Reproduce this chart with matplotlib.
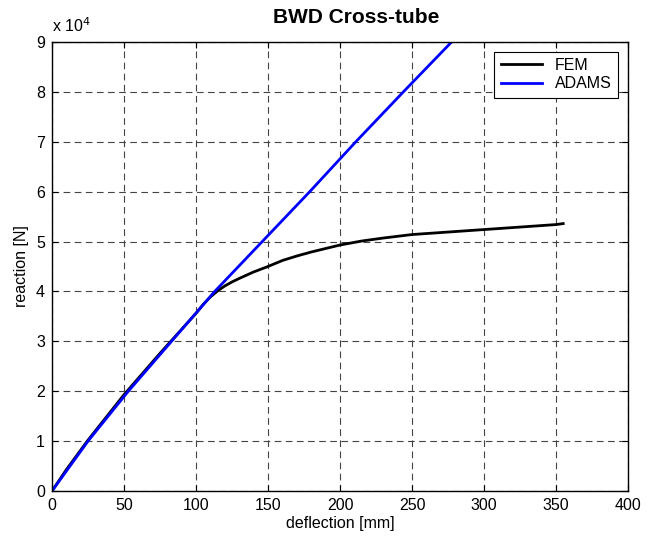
import numpy as np
import matplotlib
matplotlib.use("Agg")
import matplotlib.pyplot as plt
from matplotlib.ticker import FuncFormatter

# -----------------------------
# DATA
# -----------------------------
fem_defl = [0, 10, 25, 50, 75, 100, 105, 110, 115, 120, 125, 130, 140, 150,
            160, 170, 180, 190, 200, 215, 230, 250, 275, 300, 325, 350, 355]
fem_reac = [0, 4300, 10200, 19300, 27600, 35600, 37400, 38900, 40100, 41100,
            41900, 42600, 43900, 45000, 46200, 47100, 47900, 48600, 49300,
            50100, 50700, 51400, 51900, 52400, 52900, 53400, 53600]

adams_defl = [0, 25, 53, 83, 113, 146, 179, 211, 244, 277.5]
adams_reac = [0, 10000, 20000, 30000, 40000, 50000, 60000, 70000, 80000, 90000]

plt.rcParams['font.family'] = ['Liberation Sans', 'DejaVu Sans']
FS = 11.5

fig = plt.figure(figsize=(6.56, 5.43), dpi=100)
ax = fig.add_axes([0.0793, 0.0958, 0.8780, 0.8269])

ax.plot(fem_defl, fem_reac, color='black', lw=2, label='FEM')
ax.plot(adams_defl, adams_reac, color='blue', lw=2, label='ADAMS')

ax.set_xlim(0, 400)
ax.set_ylim(0, 90000)
ax.set_xticks(np.arange(0, 401, 50))
ax.set_yticks(np.arange(0, 90001, 10000))
ax.yaxis.set_major_formatter(FuncFormatter(lambda v, p: f"{v / 1e4:g}"))
ax.tick_params(direction='in', top=True, right=True, length=4, width=0.8,
               labelsize=FS, pad=5)

ax.grid(True, color='#444444', linestyle=(0, (6, 4)), linewidth=0.8)
for s in ax.spines.values():
    s.set_linewidth(1.0)

ax.text(0.0, 1.015, r"x 10$^{4}$", transform=ax.transAxes, fontsize=FS,
        ha='left', va='bottom')
fig.text(356 / 656, 1 - 23 / 543, "BWD Cross-tube", fontsize=15,
         fontweight='bold', ha='center', va='baseline')
ax.set_xlabel("deflection [mm]", fontsize=FS, labelpad=2)
ax.set_ylabel("reaction [N]", fontsize=FS, labelpad=5)

leg = ax.legend(loc='upper right', fancybox=False, edgecolor='black',
                framealpha=1, fontsize=FS, handlelength=2.6,
                borderaxespad=0.6, labelspacing=0.2, borderpad=0.4)
leg.get_frame().set_linewidth(0.8)

fig.savefig("out.png", dpi=100)
